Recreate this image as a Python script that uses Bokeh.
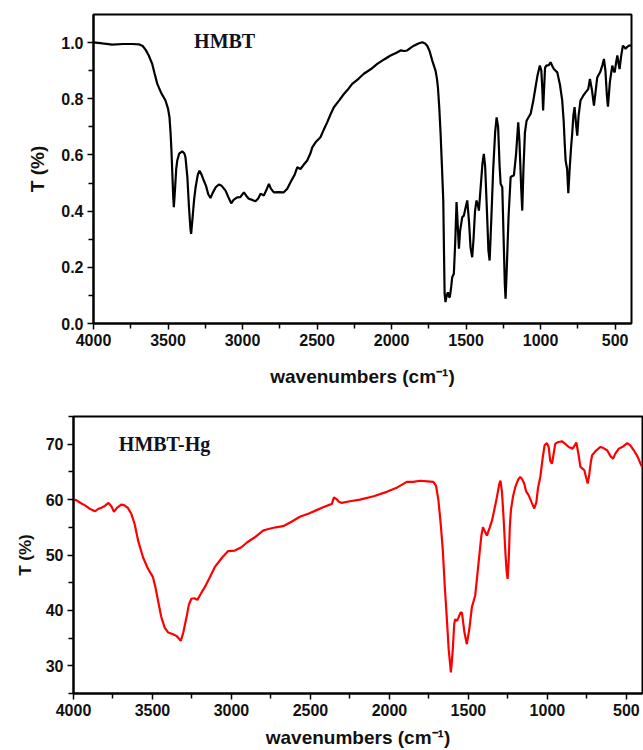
from bokeh.plotting import figure
from bokeh.models import Range1d, FixedTicker, NumeralTickFormatter, Label
from bokeh.embed import file_html
from bokeh.resources import INLINE

# ---------------- data: HMBT (top panel) ----------------
hmbt_wn = [4000, 3940, 3875, 3800, 3740, 3696, 3670, 3651, 3630, 3606, 3590, 3572, 3545, 3517, 3500,
           3490, 3483, 3477, 3470, 3465, 3461, 3455, 3445, 3438, 3425, 3405, 3390, 3383, 3370, 3360,
           3350, 3345, 3338, 3325, 3315, 3300, 3289, 3275, 3260, 3245, 3230, 3215, 3200, 3180, 3159,
           3140, 3114, 3095, 3076, 3060, 3036, 3015, 2991, 2975, 2958, 2935, 2913, 2895, 2879, 2865,
           2857, 2840, 2823, 2810, 2790, 2760, 2723, 2700, 2678, 2650, 2633, 2611, 2590, 2566, 2545,
           2532, 2510, 2477, 2455, 2432, 2409, 2387, 2350, 2320, 2290, 2264, 2220, 2186, 2140, 2096,
           2050, 2007, 1970, 1940, 1915, 1895, 1870, 1850, 1820, 1794, 1775, 1761, 1745, 1727, 1705,
           1695, 1689, 1680, 1671, 1662, 1653, 1648, 1644, 1638, 1630, 1622, 1615, 1609, 1600, 1593,
           1582, 1572, 1564, 1556, 1548, 1540, 1526, 1515, 1500, 1492, 1480, 1470, 1459, 1450, 1440,
           1430, 1420, 1414, 1400, 1390, 1381, 1372, 1360, 1350, 1342, 1330, 1318, 1305, 1295, 1285,
           1275, 1268, 1257, 1248, 1240, 1235, 1228, 1215, 1201, 1190, 1179, 1165, 1150, 1142, 1130,
           1123, 1115, 1105, 1094, 1080, 1067, 1050, 1034, 1020, 1005, 995, 988, 983, 978, 970,
           962, 945, 933, 920, 911, 888, 870, 855, 845, 838, 832, 822, 814, 805, 795,
           788, 780, 772, 762, 754, 745, 732, 715, 698, 680, 669, 655, 642, 632, 620,
           600, 585, 575, 565, 555, 548, 535, 519, 510, 503, 493, 485, 478, 470, 460,
           448, 440, 430, 418, 407, 392]
hmbt_t = [1.001, 0.997, 0.993, 0.995, 0.995, 0.994, 0.988, 0.975, 0.955, 0.924, 0.89, 0.853, 0.82, 0.794, 0.765,
          0.734, 0.68, 0.616, 0.52, 0.45, 0.414, 0.46, 0.55, 0.580, 0.605, 0.613, 0.605, 0.592, 0.52, 0.42,
          0.34, 0.319, 0.36, 0.44, 0.485, 0.53, 0.544, 0.53, 0.509, 0.49, 0.46, 0.447, 0.465, 0.485, 0.495,
          0.49, 0.473, 0.45, 0.428, 0.44, 0.449, 0.45, 0.467, 0.455, 0.444, 0.44, 0.435, 0.445, 0.462, 0.458,
          0.456, 0.475, 0.497, 0.48, 0.467, 0.468, 0.467, 0.48, 0.503, 0.53, 0.556, 0.550, 0.565, 0.580, 0.605,
          0.627, 0.645, 0.663, 0.69, 0.716, 0.745, 0.770, 0.795, 0.817, 0.835, 0.853, 0.872, 0.889, 0.905, 0.924,
          0.94, 0.954, 0.963, 0.972, 0.970, 0.972, 0.982, 0.989, 0.997, 1.001, 0.997, 0.989, 0.97, 0.936, 0.900,
          0.87, 0.841, 0.77, 0.676, 0.56, 0.438, 0.25, 0.106, 0.076, 0.10, 0.111, 0.095, 0.094, 0.13, 0.165,
          0.177, 0.30, 0.432, 0.35, 0.266, 0.33, 0.378, 0.384, 0.42, 0.438, 0.36, 0.27, 0.236, 0.30, 0.40,
          0.438, 0.42, 0.402, 0.50, 0.57, 0.604, 0.56, 0.40, 0.26, 0.224, 0.38, 0.55, 0.68, 0.734, 0.70,
          0.56, 0.497, 0.485, 0.30, 0.14, 0.088, 0.18, 0.38, 0.521, 0.525, 0.527, 0.60, 0.716, 0.65, 0.48,
          0.402, 0.55, 0.68, 0.722, 0.735, 0.746, 0.79, 0.841, 0.885, 0.918, 0.90, 0.83, 0.758, 0.82, 0.91,
          0.918, 0.92, 0.930, 0.915, 0.906, 0.894, 0.85, 0.794, 0.72, 0.64, 0.580, 0.55, 0.464, 0.55, 0.63,
          0.675, 0.74, 0.770, 0.71, 0.669, 0.74, 0.794, 0.81, 0.823, 0.835, 0.871, 0.83, 0.776, 0.82, 0.876,
          0.895, 0.92, 0.942, 0.90, 0.81, 0.772, 0.86, 0.918, 0.90, 0.894, 0.93, 0.954, 0.93, 0.906, 0.95,
          0.989, 0.985, 0.978, 0.985, 0.989, 0.99]

# ---------------- data: HMBT-Hg (bottom panel) ----------------
hg_wn = [4000, 3983, 3950, 3930, 3900, 3880, 3862, 3845, 3824, 3800, 3778, 3760, 3744, 3725, 3698,
         3680, 3656, 3635, 3613, 3590, 3560, 3530, 3497, 3480, 3465, 3445, 3423, 3400, 3370, 3349,
         3335, 3321, 3305, 3285, 3270, 3254, 3235, 3216, 3190, 3169, 3140, 3106, 3060, 3021, 2979,
         2937, 2900, 2852, 2800, 2778, 2720, 2673, 2620, 2567, 2510, 2461, 2420, 2387, 2365, 2351,
         2335, 2320, 2302, 2250, 2186, 2100, 2017, 1950, 1890, 1850, 1806, 1760, 1722, 1705, 1690,
         1675, 1662, 1650, 1637, 1625, 1611, 1600, 1590, 1584, 1572, 1563, 1550, 1541, 1525, 1510,
         1495, 1478, 1457, 1445, 1430, 1418, 1408, 1395, 1383, 1365, 1351, 1335, 1320, 1305, 1297,
         1288, 1278, 1265, 1258, 1252, 1245, 1238, 1231, 1218, 1203, 1185, 1172, 1160, 1147, 1135,
         1119, 1100, 1083, 1070, 1060, 1045, 1030, 1018, 1003, 992, 982, 971, 962, 950, 930,
         907, 885, 865, 840, 825, 817, 805, 791, 778, 766, 755, 745, 735, 725, 717,
         690, 664, 645, 622, 600, 584, 570, 548, 520, 495, 475, 453, 430, 406, 398]
hg_t = [60.0, 59.9, 59.3, 59.0, 58.4, 58.1, 57.9, 58.3, 58.5, 58.9, 59.4, 58.8, 57.8, 58.5, 59.1,
        59.0, 58.5, 57.5, 55.6, 52.5, 49.6, 47.6, 46.0, 44.0, 41.8, 38.9, 36.9, 36.0, 35.7, 35.4,
        35.0, 34.5, 36.0, 38.7, 41.0, 42.1, 42.2, 41.9, 43.2, 44.2, 45.8, 47.8, 49.5, 50.7, 50.8,
        51.4, 52.3, 53.2, 54.4, 54.6, 55.0, 55.2, 56.0, 56.9, 57.5, 58.1, 58.6, 59.0, 59.2, 60.4,
        60.1, 59.6, 59.4, 59.7, 60.0, 60.6, 61.4, 62.2, 63.2, 63.2, 63.4, 63.3, 63.2, 62.5, 59.9,
        55.5, 50.8, 44.5, 38.7, 33.0, 28.8, 32.5, 37.5, 38.4, 38.1, 38.7, 39.6, 39.6, 36.0, 33.9,
        36.5, 40.6, 42.7, 46.0, 50.2, 53.5, 55.0, 54.2, 53.5, 55.0, 56.2, 58.3, 60.4, 62.8, 63.4,
        61.5, 57.0, 50.0, 47.0, 45.7, 49.0, 55.0, 58.1, 60.5, 62.3, 63.6, 64.1, 63.7, 62.9, 61.5,
        60.8, 59.5, 58.4, 59.5, 62.0, 64.1, 67.5, 69.8, 70.2, 69.5, 67.0, 66.5, 68.0, 70.1, 70.4,
        70.5, 70.0, 69.5, 69.2, 69.9, 70.3, 68.5, 65.9, 65.6, 65.3, 64.0, 62.9, 64.5, 66.8, 68.0,
        68.9, 69.5, 69.3, 68.9, 67.8, 67.4, 68.3, 69.2, 69.6, 70.2, 69.8, 68.9, 67.8, 66.2, 65.9]

x_major = [4000, 3500, 3000, 2500, 2000, 1500, 1000, 500]
x_minor = [3750, 3250, 2750, 2250, 1750, 1250, 750]
y1_major = [0.0, 0.2, 0.4, 0.6, 0.8, 1.0]
y1_minor = [0.1, 0.3, 0.5, 0.7, 0.9]
y2_major = [30, 40, 50, 60, 70]
y2_minor = [25, 35, 45, 55, 65, 75]

FONT = "Liberation Sans"


def style(p, ytitle_size):
    p.grid.visible = False
    p.outline_line_color = "black"
    p.outline_line_width = 2
    p.background_fill_color = "white"
    p.border_fill_color = "white"
    for ax in (p.xaxis[0], p.yaxis[0]):
        ax.axis_line_width = 2
        ax.axis_line_color = "black"
        ax.major_tick_in = 0
        ax.major_tick_out = 6
        ax.minor_tick_in = 0
        ax.minor_tick_out = 5
        ax.major_tick_line_width = 1.5
        ax.minor_tick_line_width = 1.5
        ax.major_label_text_font = FONT
        ax.major_label_text_font_style = "bold"
        ax.major_label_text_font_size = "16px"
        ax.major_label_text_color = "#111111"
        ax.axis_label_text_font = FONT
        ax.axis_label_text_font_style = "bold"
        ax.axis_label_text_color = "#111111"
        ax.major_label_standoff = 4
    p.xaxis[0].axis_label = "wavenumbers (cm\u207b\u00b9)"
    p.xaxis[0].axis_label_text_font_size = "19px"
    p.yaxis[0].axis_label = "T (%)"
    p.yaxis[0].axis_label_text_font_size = ytitle_size


# ---------------- top panel ----------------
p1 = figure(width=643, height=395, output_backend="svg", toolbar_location=None,
            x_range=Range1d(4000, 390), y_range=Range1d(0, 1.1),
            min_border_left=93, min_border_right=12, min_border_top=14, min_border_bottom=72)
p1.line(hmbt_wn, hmbt_t, line_color="black", line_width=2.2)
p1.xaxis.ticker = FixedTicker(ticks=x_major, minor_ticks=x_minor)
p1.yaxis.ticker = FixedTicker(ticks=y1_major, minor_ticks=y1_minor)
p1.yaxis.formatter = NumeralTickFormatter(format="0.0")
style(p1, "19px")
p1.xaxis.axis_label_standoff = 17
p1.yaxis.axis_label_standoff = 10
p1.add_layout(Label(x=3325, y=1.006, text="HMBT", text_font="Liberation Serif",
                    text_font_style="bold", text_font_size="20px", text_baseline="middle",
                    text_color="#111122"))

# ---------------- bottom panel ----------------
p2 = figure(width=643, height=355, output_backend="svg", toolbar_location=None,
            x_range=Range1d(4000, 398), y_range=Range1d(25, 75),
            min_border_left=73, min_border_right=1, min_border_top=21, min_border_bottom=57)
p2.line(hg_wn, hg_t, line_color="#ff0000", line_width=2.2)
p2.xaxis.ticker = FixedTicker(ticks=x_major, minor_ticks=x_minor)
p2.yaxis.ticker = FixedTicker(ticks=y2_major, minor_ticks=y2_minor)
style(p2, "17px")
p2.xaxis.axis_label_standoff = 8
p2.yaxis.axis_label_standoff = 8
p2.add_layout(Label(x=3713, y=70.0, text="HMBT-Hg", text_font="Liberation Serif",
                    text_font_style="bold", text_font_size="20px", text_baseline="middle",
                    text_color="#111122"))

# two independent roots stacked vertically (avoids frame alignment of a column layout)
open("out.html", "w").write(file_html([p1, p2], INLINE))
